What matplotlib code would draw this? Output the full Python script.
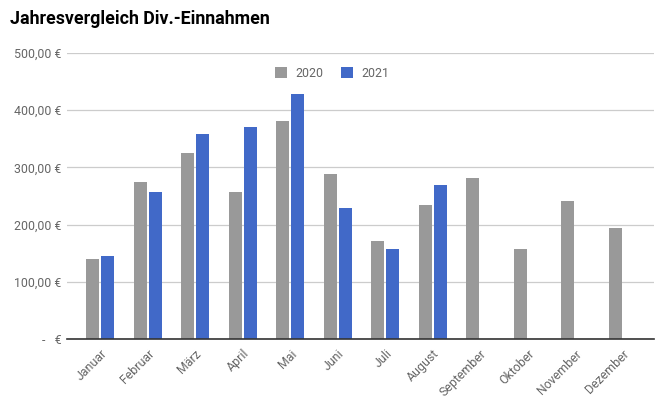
import matplotlib
matplotlib.use("Agg")
import matplotlib.pyplot as plt
import numpy as np

months = ["Januar", "Februar", "März", "April", "Mai", "Juni", "Juli",
          "August", "September", "Oktober", "November", "Dezember"]
vals_2020 = [140, 275, 325, 257, 381, 289, 172, 235, 281, 157, 241, 194]
vals_2021 = [145, 257, 358, 371, 429, 229, 157, 270, None, None, None, None]
yticks = [0, 100, 200, 300, 400, 500]
ytick_labels = ["-   €", "100,00 €", "200,00 €", "300,00 €", "400,00 €", "500,00 €"]

plt.rcParams['font.family'] = ['Roboto', 'DejaVu Sans']

fig = plt.figure(figsize=(6.59, 3.98), dpi=100)
ax = fig.add_axes([67/659, 59/398, 587/659, 286/398])

x = np.arange(len(months))
w = 0.274
off = 0.158
ax.bar(x - off, vals_2020, width=w, color="#999999", label="2020", zorder=3)
x21 = [xi for xi, v in zip(x, vals_2021) if v is not None]
v21 = [v for v in vals_2021 if v is not None]
ax.bar(np.array(x21) + off, v21, width=w, color="#4169C8", label="2021", zorder=3)

ax.set_xlim(-0.695, 11.66)
ax.set_ylim(0, 500)
ax.set_yticks(yticks)
ax.set_yticklabels(ytick_labels)
ax.set_xticks(x)
ax.set_xticklabels(months, rotation=45, ha="right", va="top", rotation_mode="anchor")
ax.tick_params(axis="both", length=0, colors="#666666", labelsize=8.9)
ax.tick_params(axis="y", pad=4)
ax.tick_params(axis="x", pad=6)
ax.grid(axis="y", color="#cccccc", linewidth=0.9, zorder=0)
for s in ["top", "right", "left"]:
    ax.spines[s].set_visible(False)
ax.spines["bottom"].set_color("#333333")
ax.spines["bottom"].set_linewidth(1.2)
ax.spines["bottom"].set_zorder(4)

leg = ax.legend(loc="upper center", bbox_to_anchor=(0.452, 0.99), ncol=2, frameon=False,
                handlelength=0.95, handleheight=0.95, handletextpad=0.7,
                columnspacing=1.4, fontsize=8.9)
for t in leg.get_texts():
    t.set_color("#666666")

fig.text(10/659, 1 - 19/398, "Jahresvergleich Div.-Einnahmen", fontsize=12.8,
         fontweight="bold", color="#000000", ha="left", va="center")

fig.savefig("out.png", dpi=100)
